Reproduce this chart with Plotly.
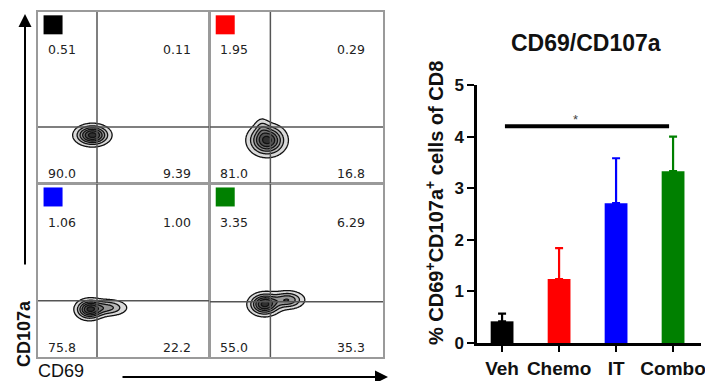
import numpy as np
import plotly.graph_objects as go

# ---------------- data ----------------
groups = ["Veh", "Chemo", "IT", "Combo"]
group_colors = ["#000000", "#ff0000", "#0000ff", "#008000"]
bar_means = [0.42, 1.24, 2.71, 3.33]
bar_err_up = [0.15, 0.60, 0.87, 0.67]
sig_span = [0.05, 2.93]
sig_level = [4.2]
y_ticks = [0, 1, 2, 3, 4, 5]

# quadrant percentages per flow panel: [UL, UR, LL, LR]
q_UL = ["0.51", "1.95", "1.06", "3.35"]
q_UR = ["0.11", "0.29", "1.00", "6.29"]
q_LL = ["90.0", "81.0", "75.8", "55.0"]
q_LR = ["9.39", "16.8", "22.2", "35.3"]

# gate positions (fraction of panel) per panel
gate_x = [0.345, 0.349, 0.345, 0.349]
gate_y = [0.327, 0.327, 0.325, 0.320]

# density components per panel: (cx, cy, sx, sy, weight)
blobs = [
    [(0.318, 0.280, 0.056, 0.034, 1.0)],
    [(0.330, 0.250, 0.060, 0.050, 1.0), (0.300, 0.330, 0.025, 0.035, 0.18)],
    [(0.300, 0.275, 0.045, 0.033, 1.0), (0.410, 0.285, 0.065, 0.028, 0.55)],
    [(0.315, 0.305, 0.050, 0.036, 1.0), (0.450, 0.330, 0.055, 0.030, 0.6)],
]

W, H = 705, 381
def px(x): return x / W
def py(y): return 1 - y / H

panel_x = [(38, 209), (210, 383), (38, 209), (210, 383)]
panel_y = [(12, 183), (12, 183), (184, 357), (184, 357)]

fig = go.Figure()
font_fam = "Liberation Sans, Arial, sans-serif"
num_font = dict(family="DejaVu Sans, Verdana, sans-serif", size=12.5, color="#222")

grid = np.linspace(0, 1, 240)
GX, GY = np.meshgrid(grid, grid)

annotations = []
shapes = []
for i in range(4):
    xa = f"x{i+1}" if i > 0 else "x"
    ya = f"y{i+1}" if i > 0 else "y"
    xkey = f"xaxis{i+1}" if i > 0 else "xaxis"
    ykey = f"yaxis{i+1}" if i > 0 else "yaxis"
    ax_style = dict(range=[0, 1], showgrid=False, zeroline=False, showticklabels=False,
                    ticks="", showline=True, mirror=True, linecolor="#9a9a9a", linewidth=2,
                    automargin=False)
    fig.update_layout({
        xkey: dict(domain=[px(panel_x[i][0]), px(panel_x[i][1])], anchor=ya, **ax_style),
        ykey: dict(domain=[py(panel_y[i][1]), py(panel_y[i][0])], anchor=xa, **ax_style),
    })
    Z = np.zeros_like(GX)
    for (cx, cy, sx, sy, w) in blobs[i]:
        Z += w * np.exp(-((GX - cx) ** 2 / (2 * sx ** 2) + (GY - cy) ** 2 / (2 * sy ** 2)))
    Z = Z / Z.max()
    fig.add_trace(go.Contour(
        x=grid, y=grid, z=Z, xaxis=xa, yaxis=ya, showscale=False, hoverinfo="skip",
        zmin=0, zmax=1,
        contours=dict(start=0.12, end=0.95, size=0.16, coloring="fill"),
        colorscale=[[0, "rgba(255,255,255,0)"], [0.11, "rgba(255,255,255,0)"],
                    [0.12, "#e4e4e4"], [1, "#303030"]],
        line=dict(color="#111", width=1.3),
    ))
    # gates
    shapes.append(dict(type="line", xref=xa, yref=ya, x0=gate_x[i], x1=gate_x[i], y0=0, y1=1,
                       line=dict(color="#555", width=1.5)))
    shapes.append(dict(type="line", xref=xa, yref=ya, x0=0, x1=1, y0=gate_y[i], y1=gate_y[i],
                       line=dict(color="#555", width=1.5)))
    # color marker
    fig.add_trace(go.Scatter(x=[0.088], y=[0.925], xaxis=xa, yaxis=ya, mode="markers",
                             marker=dict(symbol="square", size=19, color=group_colors[i]),
                             hoverinfo="skip", showlegend=False))
    # quadrant numbers
    for txt, xx, yy, anc in [(q_UL[i], 0.045, 0.78, "left"), (q_UR[i], 0.905, 0.78, "right"),
                             (q_LL[i], 0.045, 0.055, "left"), (q_LR[i], 0.905, 0.055, "right")]:
        annotations.append(dict(text=txt, x=xx, y=yy, xref=xa, yref=ya, showarrow=False,
                                xanchor=anc, yanchor="middle", font=num_font))

# ---------------- bar chart ----------------
for g, m, e, c in zip(groups, bar_means, bar_err_up, group_colors):
    fig.add_trace(go.Bar(
        x=[g], y=[m], xaxis="x5", yaxis="y5", width=0.4, marker=dict(color=c, line=dict(width=0)),
        error_y=dict(type="data", array=[e], arrayminus=[0], symmetric=False,
                     color=c, thickness=2.2, width=4),
        showlegend=False, hoverinfo="skip"))

fig.update_layout(
    xaxis5=dict(domain=[px(477), px(701)], anchor="y5", range=[-0.44, 3.49],
                categoryorder="array", categoryarray=groups, automargin=False,
                showline=True, linecolor="black", linewidth=2.5, ticks="outside",
                ticklen=6, tickwidth=2, tickcolor="black", showgrid=False, zeroline=False,
                tickfont=dict(family=font_fam, size=19, color="#111", weight="bold")),
    yaxis5=dict(domain=[py(343), py(85)], anchor="x5", range=[0, 5], tickvals=y_ticks,
                automargin=False,
                showline=True, linecolor="black", linewidth=2.5, ticks="outside",
                ticklen=7, tickwidth=2, tickcolor="black", showgrid=False, zeroline=False,
                tickfont=dict(family=font_fam, size=17, color="#111", weight="bold")),
    barmode="overlay",
)

shapes.append(dict(type="line", xref="x5", yref="y5", x0=sig_span[0], x1=sig_span[1],
                   y0=sig_level[0], y1=sig_level[0], line=dict(color="black", width=4)))
annotations.append(dict(text="*", x=1.28, y=sig_level[0] + 0.13, xref="x5", yref="y5",
                        xanchor="center", yanchor="middle",
                        showarrow=False, font=dict(family=font_fam, size=13, color="#444")))

# titles
annotations.append(dict(text="CD69/CD107a", x=px(586), y=py(43), xref="paper", yref="paper",
                        xanchor="center", yanchor="middle",
                        showarrow=False, font=dict(family=font_fam, size=23, color="#111", weight="bold")))
annotations.append(dict(text="% CD69<sup>+</sup>CD107a<sup>+</sup> cells of CD8", x=px(434), y=py(203),
                        xref="paper", yref="paper", showarrow=False, textangle=-90,
                        xanchor="center", yanchor="middle",
                        font=dict(family=font_fam, size=20, color="#111", weight="bold")))
annotations.append(dict(text="CD107a", x=px(24), y=py(334), xref="paper", yref="paper",
                        showarrow=False, textangle=-90, xanchor="center", yanchor="middle",
                        font=dict(family=font_fam, size=18, color="#111", weight="bold")))
annotations.append(dict(text="CD69", x=px(61), y=py(371), xref="paper", yref="paper",
                        showarrow=False, xanchor="center", yanchor="middle",
                        font=dict(family=font_fam, size=18, color="#111")))
# axis arrows
annotations.append(dict(text="", x=px(25), y=py(14), xref="paper", yref="paper",
                        showarrow=True, ax=0, ay=252, arrowhead=2, arrowsize=1.3,
                        arrowwidth=2, arrowcolor="black", standoff=0, startstandoff=0))
annotations.append(dict(text="", x=px(388), y=py(377), xref="paper", yref="paper",
                        showarrow=True, ax=-267, ay=0, arrowhead=2, arrowsize=1.3,
                        arrowwidth=2, arrowcolor="black", standoff=0, startstandoff=0))

fig.update_layout(width=W, height=H, margin=dict(l=0, r=0, t=0, b=0),
                  paper_bgcolor="white", plot_bgcolor="white",
                  annotations=annotations, shapes=shapes, showlegend=False)

fig.write_html("out.html")
